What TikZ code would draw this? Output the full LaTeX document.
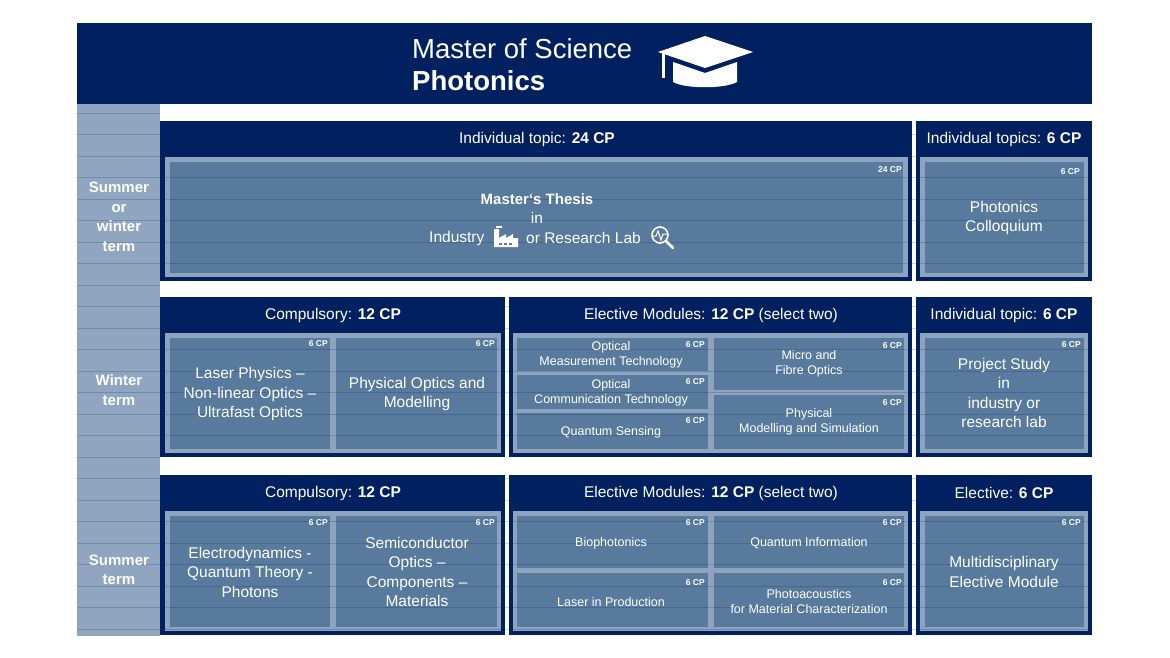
\documentclass[tikz,border=0pt]{standalone}
\usepackage{fontspec}
\setmainfont{Liberation Sans}
\begin{document}
\definecolor{navy}{RGB}{0,32,96}
\definecolor{frm}{RGB}{142,163,190}
\definecolor{cell}{RGB}{88,122,156}
\definecolor{sidec}{RGB}{143,165,192}
\begin{tikzpicture}[x=1pt,y=-1pt,
  hdr/.style={font=\fontsize{15.5}{17}\selectfont,text=white,anchor=center},
  ct/.style={font=\fontsize{15.5}{19.5}\selectfont,text=white,align=center,anchor=center},
  cs/.style={font=\fontsize{12.5}{15}\selectfont,text=white,align=center,anchor=center},
  cp/.style={font=\bfseries\fontsize{8.5}{10}\selectfont,text=white,anchor=north east,inner sep=0pt},
  sidel/.style={font=\bfseries\fontsize{15}{19.5}\selectfont,text=white,align=center}]
\useasboundingbox (0,0) rectangle (1170,658);
\fill[white] (0,0) rectangle (1170,658);
% banner
\fill[navy] (77,23) rectangle (1092,104);
\node[anchor=west,text=white,font=\fontsize{27.5}{32}\selectfont,inner sep=0pt] (t1) at (412,49) {Master of Science};
\node[anchor=west,text=white,font=\bfseries\fontsize{27.5}{32}\selectfont,inner sep=0pt] (t2) at (412,81) {Photonics};
% mortarboard
\fill[white] (658,52) -- (705,36) -- (753,52) -- (705,68) -- cycle;
\fill[white] (673,62) -- (705,73) -- (737,62) -- (737,82) .. controls (725,89) and (685,89) .. (673,82) -- cycle;
\fill[white] (662,53) rectangle (665,78);
% side column
\fill[sidec] (77,104) rectangle (160,636);
% blocks
\foreach \a/\b/\c/\d in {160/912/121/281, 916/1092/121/281, 160/505/297/457, 509/912/297/457, 916/1092/297/457, 160/505/475/635, 509/912/475/635, 916/1092/475/635}
  \fill[navy] (\a,\c) rectangle (\b,\d);
% frames
\foreach \a/\b/\c/\d in {165/908/157/277, 920/1088/157/277, 165/501/333/453, 513/908/333/453, 920/1088/333/453, 165/501/511/631, 513/908/511/631, 920/1088/511/631}
  \fill[frm] (\a,\c) rectangle (\b,\d);
% cells
\foreach \a/\b/\c/\d in {170/903/162/273, 925/1084/162/273,
  170/330/338/449, 336/497/338/449,
  517/708/338/371, 517/708/375/409, 517/708/413/449, 714/904/338/390, 714/904/395/449,
  925/1084/338/449,
  170/330/516/627, 336/497/516/627,
  517/708/516/568, 517/708/573/627, 714/904/516/568, 714/904/573/627,
  925/1084/516/627}
  \fill[cell] (\a,\c) rectangle (\b,\d);
% stripes
\foreach \k in {0,...,24}
  \draw[navy,opacity=0.2,line width=0.8pt] (77,113+21.5*\k) -- (1092,113+21.5*\k);
\fill[white] (160,104) rectangle (1092,121);
\fill[white] (160,281) rectangle (1092,297);
\fill[white] (160,457) rectangle (1092,475);
\fill[white] (160,635) rectangle (1092,658);
% side labels
\node[sidel] (s1) at (119,217) {Summer\\or\\winter\\term};
\node[sidel] (s2) at (119,390) {Winter\\term};
\node[sidel] (s3) at (119,570) {Summer\\term};
% headers
\node[hdr] (h1) at (537,139) {Individual topic: \textbf{24 CP}};
\node[hdr] (h2) at (1004,139) {Individual topics: \textbf{6 CP}};
\node[hdr] (h3) at (333,315) {Compulsory: \textbf{12 CP}};
\node[hdr] (h4) at (711,315) {Elective Modules: \textbf{12 CP} (select two)};
\node[hdr] (h5) at (1004,315) {Individual topic: \textbf{6 CP}};
\node[hdr] (h6) at (333,493) {Compulsory: \textbf{12 CP}};
\node[hdr] (h7) at (711,493) {Elective Modules: \textbf{12 CP} (select two)};
\node[hdr] (h8) at (1004,493) {Elective: \textbf{6 CP}};
% cp labels
\node[cp] (cp0) at (902,166) {24 CP};
\foreach \x/\y [count=\i] in {1080/168, 328/340, 495/340, 705/341, 902/342, 705/378, 902/399, 705/417, 1081/341, 328/519, 495/519, 705/519, 902/519, 705/579, 902/579, 1081/519}
  \node[cp] (cp\i) at (\x,\y) {6 CP};
% thesis
\node[ct,font=\bfseries\fontsize{15}{19}\selectfont] (th) at (537,199) {Master‘s Thesis};
\node[ct] (in1) at (537,218) {in};
\node[ct,anchor=west,inner sep=0pt] (ind) at (429,238) {Industry};
% factory icon
\fill[white] (494,247) -- (494,229) -- (499,229) -- (499,238) -- (506,234) -- (506,238) -- (513,234) -- (513,238) -- (518,238) -- (518,247) -- cycle;
\fill[white] (496,226) rectangle (502,228);
\foreach \i in {0,1,2} \fill[cell] (499+5*\i,243) rectangle (502+5*\i,245);
\node[ct,anchor=west,inner sep=0pt] (rl) at (526,238) {or Research Lab};
% magnifier
\draw[white,line width=1.6pt] (660,235) circle (8);
\draw[white,line width=2.6pt,line cap=round] (666,241) -- (673,248);
\draw[white,line width=1pt] (653,236) -- (656,236) -- (658,231) -- (661,240) -- (663,234) -- (667,234);
\node[ct] (pc) at (1004,218) {Photonics\\Colloquium};
% winter
\node[ct] (lp) at (250,394) {Laser Physics –\\Non-linear Optics –\\Ultrafast Optics};
\node[ct] (po) at (417,394) {Physical Optics and\\Modelling};
\node[cs] (om) at (611,355) {Optical\\Measurement Technology};
\node[cs] (oc) at (611,393) {Optical\\Communication Technology};
\node[cs] (qs) at (611,432) {Quantum Sensing};
\node[cs] (mf) at (809,364) {Micro and\\Fibre Optics};
\node[cs] (pm) at (809,422) {Physical\\Modelling and Simulation};
\node[ct] (ps) at (1004,393) {Project Study\\in\\industry or\\research lab};
% summer
\node[ct] (ed) at (250,572) {Electrodynamics -\\Quantum Theory -\\Photons};
\node[ct] (so) at (417,572) {Semiconductor\\Optics –\\Components –\\Materials};
\node[cs] (bp) at (611,543) {Biophotonics};
\node[cs] (qi) at (809,543) {Quantum Information};
\node[cs] (lpr) at (611,602) {Laser in Production};
\node[cs] (pa) at (809,602) {Photoacoustics\\for Material Characterization};
\node[ct] (me) at (1004,572) {Multidisciplinary\\Elective Module};
\end{tikzpicture}
\end{document}
